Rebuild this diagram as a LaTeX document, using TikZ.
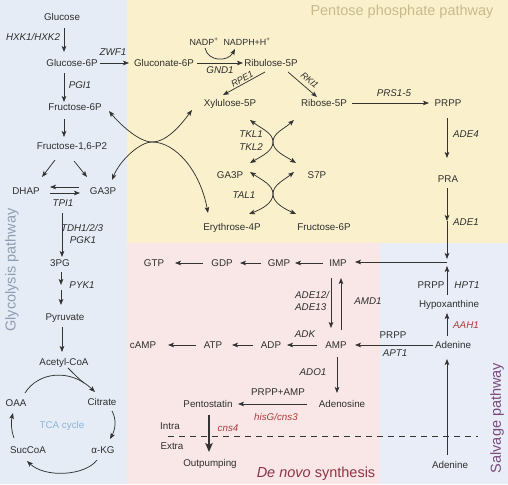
\documentclass[tikz,border=0pt]{standalone}
\usepackage{fontspec}
\setmainfont{Liberation Sans}
\usetikzlibrary{arrows.meta,calc}
\definecolor{bgblue}{HTML}{E5ECF5}
\definecolor{bgyel}{HTML}{FAF1CC}
\definecolor{bgpink}{HTML}{F9E7E7}
\definecolor{bgsalv}{HTML}{E9EDF7}
\definecolor{txt}{HTML}{2E2E2E}
\definecolor{ln}{HTML}{333333}
\definecolor{enzred}{HTML}{B03A3A}
\definecolor{ppp}{HTML}{C9BA8C}
\definecolor{glyc}{HTML}{8D9DB3}
\definecolor{salv}{HTML}{7A4A7C}
\definecolor{denovo}{HTML}{8E3444}
\definecolor{tcac}{HTML}{8FB3D6}
\begin{document}
\begin{tikzpicture}[x=1pt,y=-1pt,
  lbl/.style={inner sep=0pt, text=txt, font=\fontsize{9.8}{11}\selectfont, text height=7.1pt, text depth=0pt},
  enz/.style={lbl, font=\fontsize{9.8}{11}\selectfont\itshape},
  renz/.style={lbl, font=\fontsize{9.1}{10}\selectfont\itshape},
  redenz/.style={enz, text=enzred},
  small/.style={lbl, font=\fontsize{8.9}{10}\selectfont},
  ttl/.style={inner sep=0pt, font=\fontsize{14.5}{16}\selectfont},
  arr/.style={draw=ln, line width=0.75pt, -{Stealth[length=6pt,width=4.6pt,inset=1.4pt]}},
  biarr/.style={draw=ln, line width=0.75pt, {Stealth[length=6pt,width=4.6pt,inset=1.4pt]}-{Stealth[length=6pt,width=4.6pt,inset=1.4pt]}},
  bigarr/.style={draw=ln, line width=1.2pt, -{Stealth[length=9pt,width=7.5pt,inset=2pt]}},
  plain/.style={draw=ln, line width=0.75pt}
]
% backgrounds
\fill[bgblue] (0,0) rectangle (127,484);
\fill[bgyel] (127,0) rectangle (508,243);
\fill[bgpink] (127,243) rectangle (380,484);
\fill[bgsalv] (380,243) rectangle (508,484);
\useasboundingbox (0,0) rectangle (508,484);

% titles
\node[ttl, text=ppp] (tppp) at (402,12) {Pentose phosphate pathway};
\node[ttl, text=glyc, rotate=90] (tgly) at (12,270) {Glycolysis pathway};
\node[ttl, text=salv, rotate=90] (tsal) at (497,418) {Salvage pathway};
\node[ttl, text=denovo] (tdn) at (316,474) {\textit{De novo} synthesis};

% glycolysis column
\node[lbl] (Glc) at (62,17) {Glucose};
\node[enz] (hxk) at (33,37) {HXK1/HXK2};
\node[lbl] (G6P) at (72,63) {Glucose-6P};
\node[enz] (zwf) at (113,52) {ZWF1};
\node[enz] (pgi) at (80,85) {PGI1};
\node[lbl] (F6P) at (75,107) {Fructose-6P};
\node[lbl] (FBP) at (72,146) {Fructose-1,6-P2};
\node[lbl] (DHAP) at (26,191) {DHAP};
\node[lbl] (GA3Pl) at (103,191) {GA3P};
\node[enz] (tpi) at (63,203) {TPI1};
\node[enz] (tdh) at (82,228) {TDH1/2/3};
\node[enz] (pgk) at (83,240) {PGK1};
\node[lbl] (PG3) at (60,263) {3PG};
\node[enz] (pyk) at (82,285) {PYK1};
\node[lbl] (Pyr) at (65,317) {Pyruvate};
\node[lbl] (AcCoA) at (64,362) {Acetyl-CoA};
\node[lbl] (OAA) at (16,403) {OAA};
\node[lbl] (Cit) at (102,402) {Citrate};
\node[lbl] (aKG) at (103,450) {α-KG};
\node[lbl] (Suc) at (28,450) {SucCoA};
\node[lbl, text=tcac] (tca) at (62,425) {TCA cycle};
\coordinate (k1) at (61,285);
\coordinate (k2) at (61,290);
\coordinate (join) at (84,383);

% pentose phosphate
\node[lbl] (Glc6) at (164,63) {Gluconate-6P};
\node[small] (nadp) at (204,42) {NADP\textsuperscript{+}};
\node[small] (nadph) at (247,42) {NADPH+H\textsuperscript{+}};
\node[enz] (gnd) at (220,70) {GND1};
\node[lbl] (Ru5P) at (271,63) {Ribulose-5P};
\node[renz, rotate=29] (rpe) at (242,79) {RPE1};
\node[renz, rotate=-41] (rki) at (310,80) {RKI1};
\node[lbl] (Xu5P) at (230,103) {Xylulose-5P};
\node[lbl] (R5P) at (324,103) {Ribose-5P};
\node[enz] (prs) at (394,93) {PRS1-5};
\node[lbl] (PRPP) at (448,103) {PRPP};
\node[enz] (ade4) at (466,134) {ADE4};
\node[lbl] (PRA) at (448,179) {PRA};
\node[enz] (ade1) at (466,222) {ADE1};
\node[enz] (tkl1) at (251,134) {TKL1};
\node[enz] (tkl2) at (251,147) {TKL2};
\node[lbl] (GA3Pm) at (230,175) {GA3P};
\node[lbl] (S7P) at (317,175) {S7P};
\node[enz] (tal) at (244,195) {TAL1};
\node[lbl] (E4P) at (232,227) {Erythrose-4P};
\node[lbl] (F6Pm) at (324,227) {Fructose-6P};
\coordinate (A1) at (447,221);
\coordinate (M) at (447,262);

% de novo
\node[lbl] (IMP) at (338,263) {IMP};
\node[lbl] (GMP) at (279,263) {GMP};
\node[lbl] (GDP) at (222,263) {GDP};
\node[lbl] (GTP) at (154,263) {GTP};
\node[enz, anchor=west] (ade12) at (295,295) {ADE12/};
\node[enz, anchor=west] (ade13) at (295,307) {ADE13};
\node[enz] (amd) at (368,301) {AMD1};
\node[lbl] (AMP) at (336,345) {AMP};
\node[lbl] (ADP) at (271,345) {ADP};
\node[lbl] (ATP) at (213,345) {ATP};
\node[lbl] (cAMP) at (143,345) {cAMP};
\node[enz] (adk) at (305,334) {ADK};
\node[enz] (ado) at (313,372) {ADO1};
\node[lbl] (Ados) at (342,404) {Adenosine};
\node[lbl] (prppamp) at (278,392) {PRPP+AMP};
\node[redenz] (hisg) at (276,417) {hisG/cns3};
\node[lbl] (Pento) at (208,404) {Pentostatin};
\node[redenz] (cns4) at (228,428) {cns4};
\node[lbl] (intra) at (170,426) {Intra};
\node[lbl] (extra) at (172,446) {Extra};
\node[lbl] (Outp) at (210,463) {Outpumping};
\coordinate (dashL) at (168,436);
\coordinate (dashR) at (478,436);

% salvage
\node[lbl] (Hypo) at (449,304) {Hypoxanthine};
\node[lbl] (prpp2) at (431,285) {PRPP};
\node[enz] (hpt) at (467,285) {HPT1};
\node[lbl] (Ade1) at (453,345) {Adenine};
\node[redenz] (aah) at (466,325) {AAH1};
\node[lbl] (prpp3) at (393,335) {PRPP};
\node[enz] (apt) at (395,353) {APT1};
\node[lbl] (Ade2) at (450,465) {Adenine};

% ---- glycolysis arrows
\draw[arr] ($(Glc)+(2,11)$) -- ($(G6P)+(-8,-11)$);
\draw[arr] ($(G6P)+(-8,10)$) -- ($(F6P)+(-11,-5)$);
\draw[arr] ($(F6P)+(-11,12)$) -- ($(FBP)+(-8,-9)$);
\draw[arr] ($(FBP)+(-17,14)$) -- ($(DHAP)+(16,-14)$);
\draw[arr] ($(FBP)+(2,15)$) -- ($(GA3Pl)+(-16,-14)$);
\draw[arr] ($(GA3Pl)+(-24,-4)$) -- ($(DHAP)+(24,-4)$);
\draw[arr] ($(DHAP)+(24,2)$) -- ($(GA3Pl)+(-23,2)$);
\draw[arr] ($(tpi)+(-1,10)$) -- ($(PG3)+(2,-6)$);
\draw[arr] ($(PG3)+(1,9)$) -- (k1);
\draw[arr] (k2) -- ($(Pyr)+(-4,-12)$);
\draw[arr] ($(Pyr)+(-3,10)$) -- ($(AcCoA)+(-2,-10)$);
% TCA cycle
\draw[arr] ($(OAA)+(9,-10)$) .. controls (38,372) and (70,368) .. ($(Cit)+(-7,-10)$);
\draw[plain] ($(AcCoA)+(4,6)$) .. controls (74,374) and (79,379) .. (join);
\draw[arr] ($(Cit)+(10,9)$) .. controls (117,420) and (115,430) .. ($(aKG)+(7,-11)$);
\draw[arr] ($(aKG)+(-6,10)$) .. controls (85,476) and (45,478) .. ($(Suc)+(-1,11)$);
\draw[arr] ($(Suc)+(-14,-12)$) .. controls (11,430) and (11,421) .. ($(OAA)+(-3,10)$);

% ---- pentose arrows
\draw[arr] ($(G6P)+(28,0)$) -- ($(Glc6)+(-35,0)$);
\draw[arr] ($(Glc6)+(33,0)$) -- ($(Ru5P)+(-28,0)$);
\draw[arr] ($(nadp)+(1,6)$) .. controls (208,62) and (228,62) .. ($(nadph)+(-12,7)$);
\draw[arr] ($(Ru5P)+(-6,9)$) -- ($(Xu5P)+(-7,-8)$);
\draw[arr] ($(Ru5P)+(17,9)$) -- ($(R5P)+(-7,-6)$);
\draw[arr] ($(R5P)+(28,0)$) -- ($(PRPP)+(-19,0)$);
\draw[arr] ($(PRPP)+(-1,15)$) -- ($(PRA)+(-1,-21)$);
\draw[arr] ($(PRA)+(-1,9)$) -- (A1);
\draw[arr] (A1) -- ($(M)+(0,-3)$);
\draw[arr] (M) -- ($(IMP)+(17,-1)$);
% big crossing (glycolysis <-> pentose)
\coordinate (c0) at (152,142);
\draw[biarr] ($(F6P)+(34,4)$) .. controls (118,122) and (138,142) .. (c0) .. controls (168,142) and (183,122) .. ($(Xu5P)+(-38,7)$);
\draw[biarr] ($(GA3Pl)+(9,-11)$) .. controls (120,160) and (140,142) .. (c0) .. controls (175,142) and (200,170) .. ($(E4P)+(-24,-14)$);
% TKL crossing
\coordinate (c1) at (273,142);
\draw[biarr] ($(Xu5P)+(20,17)$) .. controls (262,129) and (273,133) .. (c1) .. controls (273,151) and (262,156) .. ($(GA3Pm)+(20,-12)$);
\draw[biarr] ($(R5P)+(-30,17)$) .. controls (284,129) and (273,133) .. (c1) .. controls (273,151) and (285,156) .. ($(S7P)+(-21,-12)$);
% TAL crossing
\coordinate (c2) at (273,194);
\draw[biarr] ($(GA3Pm)+(20,-3)$) .. controls (262,180) and (273,185) .. (c2) .. controls (273,203) and (262,209) .. ($(E4P)+(17,-13)$);
\draw[biarr] ($(S7P)+(-23,-3)$) .. controls (284,180) and (273,185) .. (c2) .. controls (273,203) and (285,209) .. ($(F6Pm)+(-28,-13)$);

% ---- de novo arrows
\draw[arr] ($(IMP)+(-15,0)$) -- ($(GMP)+(16,0)$);
\draw[arr] ($(GMP)+(-18,0)$) -- ($(GDP)+(18,0)$);
\draw[arr] ($(GDP)+(-19,0)$) -- ($(GTP)+(21,0)$);
\draw[arr] ($(IMP)+(-7,15)$) -- ($(AMP)+(-5,-17)$);
\draw[arr] ($(AMP)+(5,-15)$) -- ($(IMP)+(3,15)$);
\draw[arr] ($(AMP)+(-19,0)$) -- ($(ADP)+(16,0)$);
\draw[arr] ($(ADP)+(-18,0)$) -- ($(ATP)+(19,0)$);
\draw[arr] ($(ATP)+(-17,0)$) -- ($(cAMP)+(25,0)$);
\draw[arr] ($(AMP)+(1,12)$) -- ($(Ados)+(-5,-11)$);
\draw[arr] ($(Ados)+(-35,0)$) -- ($(Pento)+(30,0)$);
\draw[bigarr] ($(Pento)+(1,11)$) -- ($(Outp)+(-1,-11)$);
\draw[draw=ln, line width=0.7pt, dash pattern=on 6pt off 5pt] (dashL) -- (dashR);

% ---- salvage arrows
\draw[arr] ($(Hypo)+(-2,-9)$) -- ($(M)+(0,4)$);
\draw[arr] ($(Ade1)+(-6,-9)$) -- ($(Hypo)+(-2,9)$);
\draw[arr] ($(Ade1)+(-20,0)$) -- ($(AMP)+(19,0)$);
\draw[arr] ($(Ade2)+(-3,-10)$) -- ($(Ade1)+(-6,14)$);
\end{tikzpicture}
\end{document}
